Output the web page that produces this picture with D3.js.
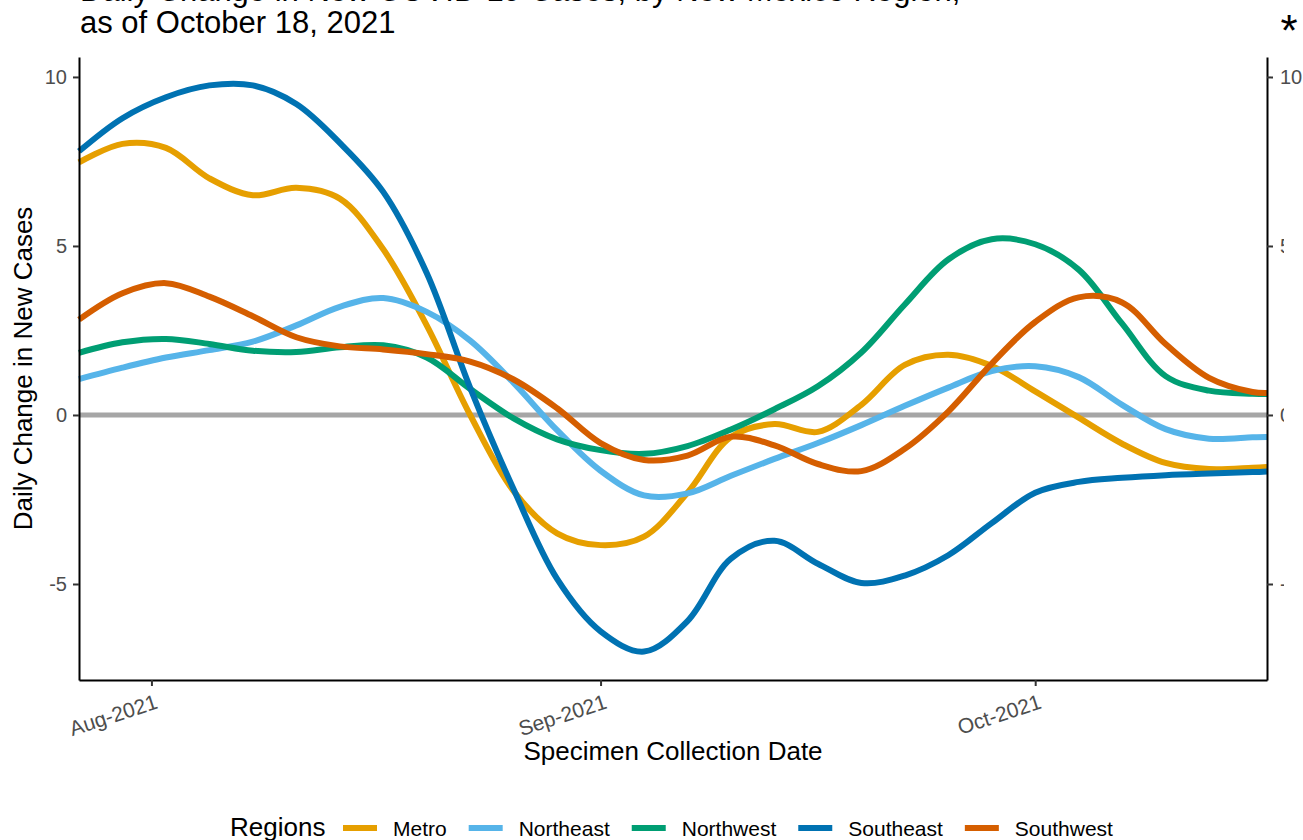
<!DOCTYPE html>
<html>
<head>
<meta charset="utf-8">
<script src="https://cdn.jsdelivr.net/npm/d3@7"></script>
<style>
  body { margin: 0; background: #fff; }
  text { font-family: "Liberation Sans", Arial, sans-serif; }
</style>
</head>
<body>
<div id="root"></div>
<script>
// specimen collection dates (every 3 days, plus the last day)
const dates = ["2021-07-27", "2021-07-30", "2021-08-02", "2021-08-05", "2021-08-08", "2021-08-11",
  "2021-08-14", "2021-08-17", "2021-08-20", "2021-08-23", "2021-08-26", "2021-08-29", "2021-09-01",
  "2021-09-04", "2021-09-07", "2021-09-10", "2021-09-13", "2021-09-16", "2021-09-19", "2021-09-22",
  "2021-09-25", "2021-09-28", "2021-10-01", "2021-10-04", "2021-10-07", "2021-10-10", "2021-10-13",
  "2021-10-16", "2021-10-17"];

const regions = ["Metro", "Northeast", "Northwest", "Southeast", "Southwest"];

const metro = [7.47, 8.02, 7.9, 7.0, 6.5, 6.72, 6.4, 4.9, 2.65, 0.0, -2.25, -3.5, -3.85, -3.6, -2.3,
  -0.65, -0.27, -0.5, 0.3, 1.48, 1.78, 1.45, 0.7, -0.08, -0.85, -1.42, -1.6, -1.56, -1.54];
const northeast = [1.06, 1.4, 1.7, 1.92, 2.17, 2.65, 3.2, 3.46, 3.05, 2.2, 0.95, -0.45, -1.65, -2.38, -2.32,
  -1.8, -1.3, -0.83, -0.3, 0.27, 0.81, 1.3, 1.44, 1.12, 0.3, -0.42, -0.7, -0.66, -0.65];
const northwest = [1.84, 2.15, 2.25, 2.1, 1.9, 1.86, 2.0, 2.06, 1.7, 0.77, -0.1, -0.72, -1.04, -1.15, -0.92,
  -0.43, 0.17, 0.85, 1.85, 3.27, 4.6, 5.2, 5.05, 4.3, 2.7, 1.15, 0.72, 0.63, 0.62];
const southeast = [7.8, 8.78, 9.4, 9.75, 9.75, 9.2, 8.05, 6.6, 4.2, 0.8, -2.2, -4.85, -6.4, -7.0, -6.1,
  -4.25, -3.72, -4.4, -4.97, -4.75, -4.15, -3.2, -2.3, -1.98, -1.86, -1.78, -1.73, -1.69, -1.67];
const southwest = [2.82, 3.6, 3.9, 3.5, 2.92, 2.3, 2.03, 1.94, 1.8, 1.58, 1.05, 0.2, -0.83, -1.33, -1.2,
  -0.64, -0.9, -1.45, -1.66, -1.0, 0.1, 1.52, 2.75, 3.48, 3.33, 2.1, 1.1, 0.68, 0.65];

const yTicks = [-5, 0, 5, 10];
const xTicks = ["2021-08-01", "2021-09-01", "2021-10-01"];

const colors = ["#E69F00", "#56B4E9", "#009E73", "#0072B2", "#D55E00"];

const W = 1303, H = 840;
const panel = {left: 79, right: 1267, top: 57, bottom: 680};

const parse = d3.timeParse("%Y-%m-%d");
const days = dates.map(parse);
const series = [metro, northeast, northwest, southeast, southwest].map((vals, i) => ({
  name: regions[i],
  color: colors[i],
  values: vals.map((v, j) => ({date: days[j], value: v}))
}));

const svg = d3.select("#root").append("svg")
  .attr("width", W)
  .attr("height", H);

const x = d3.scaleTime()
  .domain([days[0], days[days.length - 1]])
  .range([panel.left, panel.right]);

const y = d3.scaleLinear()
  .domain([-7.84, 10.59])
  .range([panel.bottom, panel.top]);

// zero reference line
svg.append("line")
  .attr("x1", panel.left).attr("x2", panel.right)
  .attr("y1", y(0)).attr("y2", y(0))
  .attr("stroke", "#A6A6A6")
  .attr("stroke-width", 5);

const line = d3.line()
  .x(d => x(d.date))
  .y(d => y(d.value))
  .curve(d3.curveCatmullRom.alpha(0.5));

svg.selectAll(".region")
  .data(series)
  .enter().append("path")
  .attr("class", "region")
  .attr("d", d => line(d.values))
  .attr("fill", "none")
  .attr("stroke", d => d.color)
  .attr("stroke-width", 6);

// axes
const fmtY = d => String(d);  // plain hyphen, like the original
const yLeft = d3.axisLeft(y).tickValues(yTicks).tickFormat(fmtY)
  .tickSize(6).tickPadding(6).tickSizeOuter(0);
const yRight = d3.axisRight(y).tickValues(yTicks).tickFormat(fmtY)
  .tickSize(6).tickPadding(7).tickSizeOuter(0);
const xAxis = d3.axisBottom(x)
  .tickValues(xTicks.map(parse))
  .tickFormat(d3.timeFormat("%b-%Y"))
  .tickSize(6).tickSizeOuter(0);

function styleAxis(g) {
  g.select(".domain").attr("stroke", "#000").attr("stroke-width", 2);
  g.selectAll(".tick line").attr("stroke", "#333").attr("stroke-width", 2);
  g.selectAll(".tick text").attr("fill", "#4D4D4D").attr("font-size", 20)
    .style("font-family", '"Liberation Sans", Arial, sans-serif');
}

svg.append("g")
  .attr("transform", `translate(${panel.left},0)`)
  .call(yLeft)
  .call(styleAxis);

// right axis labels are cut off in the original, except the top one
svg.append("defs").append("clipPath").attr("id", "rclip")
  .append("path")
  .attr("d", `M${panel.right - 10},0H${W}V100H1284V${H}H${panel.right - 10}Z`);

svg.append("g")
  .attr("clip-path", "url(#rclip)")
  .append("g")
  .attr("transform", `translate(${panel.right},0)`)
  .call(yRight)
  .call(styleAxis);

const gx = svg.append("g")
  .attr("transform", `translate(0,${panel.bottom})`)
  .call(xAxis)
  .call(styleAxis);

gx.selectAll(".tick text")
  .attr("y", 0).attr("dy", 0)
  .attr("font-size", 21)
  .attr("text-anchor", "end")
  .attr("transform", "translate(7,28) rotate(-18)");

// axis titles
svg.append("text")
  .attr("x", (panel.left + panel.right) / 2)
  .attr("y", 760)
  .attr("text-anchor", "middle")
  .attr("font-size", 26)
  .text("Specimen Collection Date");

svg.append("text")
  .attr("transform", `translate(32,${(panel.top + panel.bottom) / 2}) rotate(-90)`)
  .attr("text-anchor", "middle")
  .attr("font-size", 26)
  .text("Daily Change in New Cases");

// title (partly above the picture)
svg.append("text")
  .attr("x", 80).attr("y", 1)
  .attr("font-size", 31)
  .text("Daily Change in New COVID-19 Cases, by New Mexico Region,");
svg.append("text")
  .attr("x", 80).attr("y", 33)
  .attr("font-size", 31)
  .text("as of October 18, 2021");

svg.append("text")
  .attr("x", 1289).attr("y", 46)
  .attr("text-anchor", "middle")
  .attr("font-size", 44)
  .text("*");

// legend
const legend = svg.append("g").attr("class", "legend");
const ly = 836;
legend.append("text")
  .attr("x", 230).attr("y", ly)
  .attr("font-size", 26)
  .text("Regions");

let lx = 343;
series.forEach(s => {
  legend.append("rect")
    .attr("x", lx).attr("y", ly - 11)
    .attr("width", 34).attr("height", 6)
    .attr("fill", s.color);
  const t = legend.append("text")
    .attr("x", lx + 50).attr("y", ly)
    .attr("font-size", 21)
    .text(s.name);
  lx += 50 + t.node().getComputedTextLength() + 22;
});
</script>
</body>
</html>
